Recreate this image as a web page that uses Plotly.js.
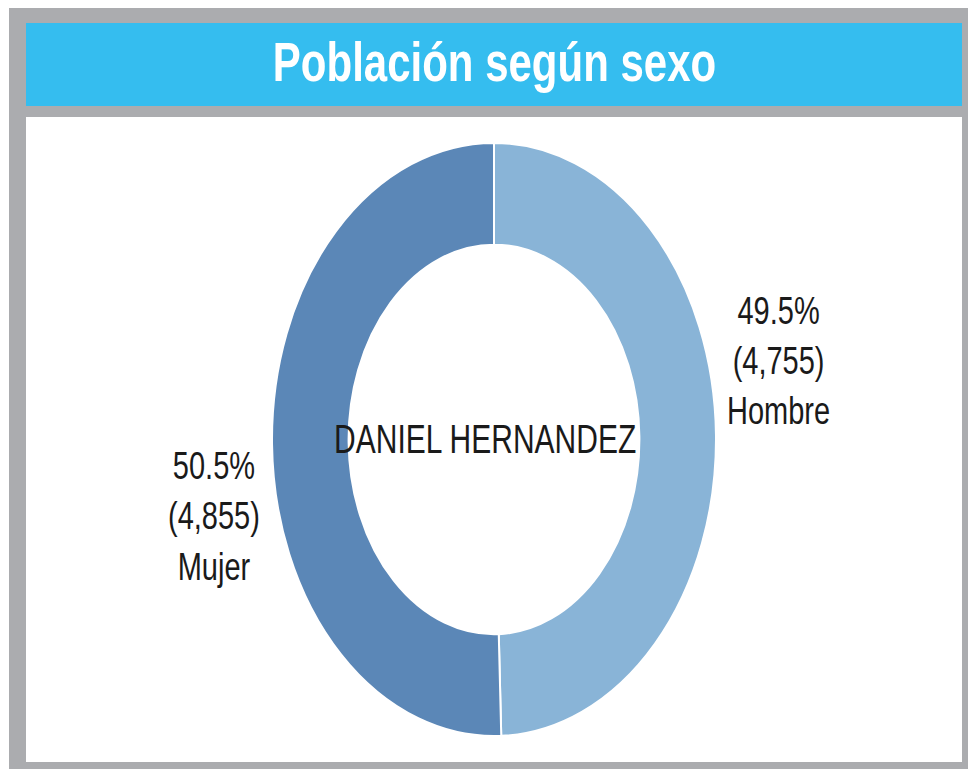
<!DOCTYPE html>
<html>
<head>
<meta charset="utf-8">
<script src="https://cdn.plot.ly/plotly-3.0.1.min.js"></script>
<style>
  html { margin: 0; padding: 0; background: #ffffff; overflow: hidden; }
  body { margin: 0; padding: 0; background: #ffffff; width: 968px; height: 769px; }
  #chart { width: 968px; height: 575px; transform: scaleY(1.337391); transform-origin: 0 0; }
</style>
</head>
<body>
<div id="chart"></div>
<script>
// ---- data ----
const categories = ['Hombre', 'Mujer'];
const values = [4755, 4855];
const centerLabel = 'DANIEL HERNANDEZ';
const chartTitle = 'Población según sexo';

// ---- layout helpers (unscaled pixel -> paper) ----
const W = 968, H = 575;
const px = x => x / W;
const py = y => 1 - y / H;

const total = values.reduce((a, b) => a + b, 0);
const labelText = values.map((v, i) =>
  (v / total * 100).toFixed(1) + '%<br>(' + v.toLocaleString('en-US') + ')<br>' + categories[i]);

const cx = 494, cy = 328.6, R = 222;

const trace = {
  type: 'pie',
  labels: categories,
  values: values,
  sort: false,
  direction: 'clockwise',
  rotation: 0,
  hole: 0.655,
  textinfo: 'none',
  hoverinfo: 'none',
  showlegend: false,
  marker: { colors: ['#89b4d7', '#5b87b7'], line: { color: '#ffffff', width: 2 } },
  domain: { x: [px(cx - R), px(cx + R)], y: [py(cy + R), py(cy - R)] }
};

const txtFont = { family: 'Liberation Sans, Arial, sans-serif', size: 29, color: '#1a1a1a' };

const layout = {
  width: W, height: H,
  margin: { l: 0, r: 0, t: 0, b: 0 },
  paper_bgcolor: '#ffffff',
  title: {
    text: chartTitle,
    font: { family: 'Liberation Sans, Arial, sans-serif', size: 42, color: '#ffffff', weight: 'bold' },
    x: px(494.5), xanchor: 'center', xref: 'paper',
    y: py(46), yanchor: 'middle', yref: 'container'
  },
  shapes: [
    { type: 'rect', xref: 'paper', yref: 'paper', layer: 'below', x0: px(9), x1: 1, y0: 0, y1: py(6), fillcolor: '#abacaf', line: { width: 0 } },
    { type: 'rect', xref: 'paper', yref: 'paper', layer: 'below', x0: px(26), x1: px(962), y0: py(79.3), y1: py(17.2), fillcolor: '#35bdef', line: { width: 0 } },
    { type: 'rect', xref: 'paper', yref: 'paper', layer: 'below', x0: px(26), x1: px(962), y0: py(569.8), y1: py(87.5), fillcolor: '#ffffff', line: { width: 0 } }
  ],
  annotations: [
    { text: centerLabel, x: px(485), y: py(328), xref: 'paper', yref: 'paper', xanchor: 'center', yanchor: 'middle', showarrow: false,
      font: { family: 'Liberation Sans, Arial, sans-serif', size: 30, color: '#1a1a1a' } },
    { text: labelText[0], x: px(778), y: py(269), xref: 'paper', yref: 'paper', xanchor: 'center', yanchor: 'middle', showarrow: false, font: txtFont, align: 'center' },
    { text: labelText[1], x: px(214), y: py(385), xref: 'paper', yref: 'paper', xanchor: 'center', yanchor: 'middle', showarrow: false, font: txtFont, align: 'center' }
  ]
};

Plotly.newPlot('chart', [trace], layout, { displayModeBar: false, staticPlot: true });
</script>
</body>
</html>
